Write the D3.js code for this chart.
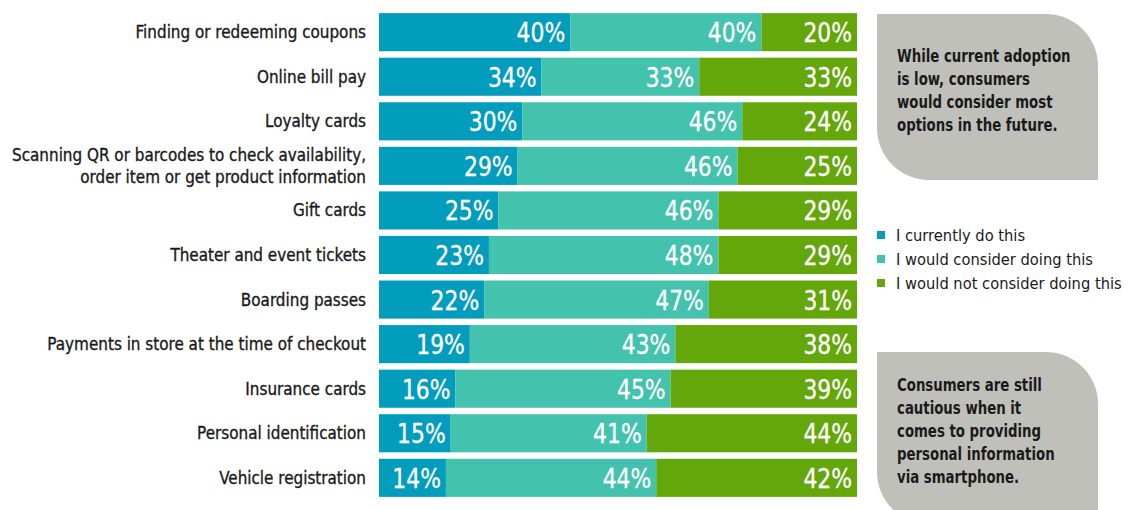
<!DOCTYPE html>
<html><head><meta charset="utf-8">
<script src="https://cdn.jsdelivr.net/npm/d3@7"></script>
<style>
body{margin:0;background:#fff;}
svg{display:block;font-family:"DejaVu Sans Condensed","DejaVu Sans",sans-serif;}
</style></head><body>
<svg id="c" width="1129" height="510"></svg>
<script>
const categories = ["Finding or redeeming coupons","Online bill pay","Loyalty cards",
 "Scanning QR or barcodes to check availability,|order item or get product information",
 "Gift cards","Theater and event tickets","Boarding passes",
 "Payments in store at the time of checkout","Insurance cards","Personal identification","Vehicle registration"];
const currently = [40,34,30,29,25,23,22,19,16,15,14];
const consider  = [40,33,46,46,46,48,47,43,45,41,44];
const notConsider=[20,33,24,25,29,29,31,38,39,44,42];
const seriesNames = ["I currently do this","I would consider doing this","I would not consider doing this"];
const colors = ["#029dbd","#43c2ad","#64a70b"];
const note1 = ["While current adoption","is low, consumers","would consider most","options in the future."];
const note2 = ["Consumers are still","cautious when it","comes to providing","personal information","via smartphone."];

const svg = d3.select("#c");
const x = d3.scaleLinear().domain([0,100]).range([379,857]);
const y = d3.scaleBand().domain(d3.range(categories.length)).range([10,500]).paddingInner(0.145).paddingOuter(0.07);

// horizontal squeeze around anchor x (to emulate the condensed face)
function squeeze(sel, ax, s){ sel.attr("transform",`translate(${ax},0) scale(${s},1) translate(${-ax},0)`); }

const data = categories.map((c,i)=>({c, v:[currently[i],consider[i],notConsider[i]]}));
const stack = d3.stack().keys([0,1,2]).value((d,k)=>d.v[k])(data);

stack.forEach((layer,k)=>{
  const g = svg.append("g");
  g.selectAll("rect").data(layer).enter().append("rect")
   .attr("x",d=>x(d[0])).attr("y",(d,i)=>y(i))
   .attr("width",d=>x(d[1])-x(d[0])).attr("height",y.bandwidth())
   .attr("fill",colors[k]);
  g.selectAll("text").data(layer).enter().append("text")
   .attr("x",d=>x(d[1])-5).attr("y",(d,i)=>y(i)+y.bandwidth()/2+10)
   .attr("text-anchor","end").attr("fill","#fff").attr("font-size",27)
   .attr("stroke","#fff").attr("stroke-width",0.3)
   .text(d=>(d[1]-d[0])+"%")
   .each(function(d){ squeeze(d3.select(this), x(d[1])-5, 0.9); });
});

// category labels
categories.forEach((c,i)=>{
  const lines = c.split("|");
  const t = svg.append("text").attr("text-anchor","end").attr("font-size",18).attr("fill","#1a1a1a")
    .attr("stroke","#1a1a1a").attr("stroke-width",0.35);
  const cy = y(i)+y.bandwidth()/2;
  const start = cy + 6 - (lines.length-1)*11;
  lines.forEach((l,j)=>t.append("tspan").attr("x",366).attr("y",start+j*22).text(l));
  squeeze(t,366,0.94);
});

// callout boxes: rounded top-right and bottom-left corners
function box(x0,y0,w,h,r){
  return `M${x0},${y0} H${x0+w-r} A${r},${r} 0 0 1 ${x0+w},${y0+r} V${y0+h} H${x0+r} A${r},${r} 0 0 1 ${x0},${y0+h-r} Z`;
}
svg.append("path").attr("d",box(877,14,221,166,52)).attr("fill","#c0c0bb");
svg.append("path").attr("d",box(877,352,221,172,52)).attr("fill","#c0c0bb");
const t1 = svg.append("text").attr("font-size",17).attr("font-weight","bold").attr("fill","#1a1a1a");
note1.forEach((l,j)=>t1.append("tspan").attr("x",897).attr("y",62+j*23).text(l));
squeeze(t1,897,0.87);
const t2 = svg.append("text").attr("font-size",17).attr("font-weight","bold").attr("fill","#1a1a1a");
note2.forEach((l,j)=>t2.append("tspan").attr("x",897).attr("y",391+j*23).text(l));
squeeze(t2,897,0.87);

// legend
seriesNames.forEach((s,k)=>{
  svg.append("rect").attr("x",877).attr("y",231+k*24).attr("width",8).attr("height",8).attr("fill",colors[k]);
  const t = svg.append("text").attr("x",896).attr("y",241+k*24).attr("font-size",16.5).attr("fill","#1a1a1a").text(s);
  squeeze(t,896,0.99);
});
</script></body></html>
